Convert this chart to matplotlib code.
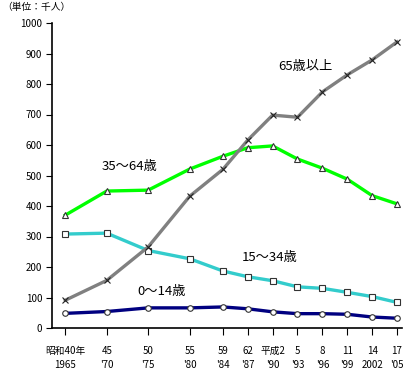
import matplotlib.pyplot as plt

plt.rcParams['font.family'] = ['Noto Sans CJK JP', 'DejaVu Sans']

# data (thousand persons)
years = [1965, 1970, 1975, 1980, 1984, 1987, 1990, 1993, 1996, 1999, 2002, 2005]
tick_labels = ["昭和40年\n1965", "45\n'70", "50\n'75", "55\n'80", "59\n'84", "62\n'87",
               "平成2\n'90", "5\n'93", "8\n'96", "11\n'99", "14\n2002", "17\n'05"]
age_65_over = [91, 156, 266, 432, 520, 616, 698, 691, 774, 830, 879, 938]
age_35_64 = [370, 449, 452, 521, 563, 591, 597, 554, 524, 488, 434, 407]
age_15_34 = [308, 311, 254, 227, 187, 168, 155, 135, 130, 117, 103, 84]
age_0_14 = [48, 54, 66, 66, 69, 63, 53, 47, 47, 45, 36, 32]

fig = plt.figure(figsize=(4.1, 3.71), dpi=100)
ax = fig.add_axes([52 / 410, 1 - 328 / 371, 350 / 410, 305 / 371])

ax.plot(years, age_0_14, color='#000080', lw=2.4, marker='o', ms=4,
        mfc='white', mec='#333333', mew=0.8)
ax.plot(years, age_15_34, color='#33cccc', lw=2.4, marker='s', ms=4,
        mfc='white', mec='#333333', mew=0.8)
ax.plot(years, age_35_64, color='#00ff00', lw=2.4, marker='^', ms=5,
        mfc='white', mec='#333333', mew=0.8)
ax.plot(years, age_65_over, color='#808080', lw=2.4, marker='x', ms=5,
        mec='#222222', mew=0.8)

# series labels
ax.text(1993.9, 857, '65歳以上', fontsize=9.5, ha='center', va='center')
ax.text(1972.8, 528, '35～64歳', fontsize=9.5, ha='center', va='center')
ax.text(1989.7, 230, '15～34歳', fontsize=9.5, ha='center', va='center')
ax.text(1976.6, 121, '0～14歳', fontsize=9.5, ha='center', va='center')

ax.set_xlim(1963.4, 2005.6)
ax.set_ylim(0, 1000)
ax.set_xticks(years)
ax.set_xticklabels(tick_labels, fontsize=7, linespacing=1.5)
ax.set_yticks(range(0, 1001, 100))
ax.tick_params(axis='y', labelsize=7, length=4, pad=3)
ax.tick_params(axis='x', length=5, pad=8)

for s in ['top', 'right']:
    ax.spines[s].set_visible(False)
ax.spines['left'].set_linewidth(1.2)
ax.spines['bottom'].set_linewidth(1.2)

fig.text(2 / 410, 1 - 7 / 371, '（単位：千人）', fontsize=7, ha='left', va='center')

fig.savefig('out.png', dpi=100)
